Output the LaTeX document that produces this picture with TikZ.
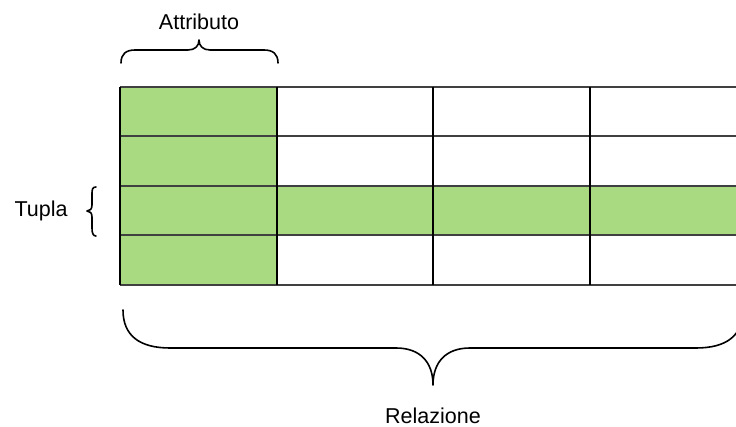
\documentclass[tikz,border=0pt]{standalone}
\usepackage{fontspec}
\setmainfont{Liberation Sans}
\definecolor{cellgreen}{HTML}{A9DA82}
\definecolor{hline}{HTML}{404040}
\begin{document}
\begin{tikzpicture}[x=1pt,y=-1pt,
  lbl/.style={font=\fontsize{21.5}{25}\selectfont, inner sep=0pt},
  bracepath/.style={line width=1.6pt, line cap=round, line join=round},
  rowline/.style={line width=1.2pt, draw=hline},
  colline/.style={line width=1.2pt, draw=black}]
\useasboundingbox (0,0) rectangle (736,427);
\begin{scope}
\clip (0,0) rectangle (736,427);
% green cells: first column and third row
\fill[cellgreen] (120,87) rectangle (277,285);
\fill[cellgreen] (120,186) rectangle (760,235);
% row lines
\foreach \y in {87,136,186,235,285}
  \draw[rowline] (120,\y) -- (760,\y);
% column lines
\foreach \x in {120,277,433,590}
  \draw[colline] (\x,87) -- (\x,285);
% brace under the whole table
\draw[bracepath] (123,310) .. controls (123,336) and (140,348) .. (170,348)
  -- (396,348) .. controls (420,348) and (433,362) .. (433,385)
  .. controls (433,362) and (446,348) .. (470,348)
  -- (696,348) .. controls (726,348) and (743,336) .. (743,310);
\end{scope}
% brace over the first column
\draw[bracepath] (121,63) .. controls (121,54) and (126,50) .. (135,50)
  -- (188,50) .. controls (195,50) and (199,46) .. (199,40)
  .. controls (199,46) and (203,50) .. (210,50)
  -- (264,50) .. controls (273,50) and (278,54) .. (278,63);
% brace beside the third row
\draw[bracepath] (96,187) .. controls (92,187) and (92,190) .. (92,195)
  -- (92,205) .. controls (92,209) and (90,211) .. (87,211)
  .. controls (90,211) and (92,213) .. (92,217)
  -- (92,228) .. controls (92,233) and (93,236) .. (96,236);
% labels
\node[lbl] (attr) at (199,22) {Attributo};
\node[lbl] (tupla) at (41,211) {Tupla};
\node[lbl] (rel) at (433,416) {Relazione};
\end{tikzpicture}
\end{document}
